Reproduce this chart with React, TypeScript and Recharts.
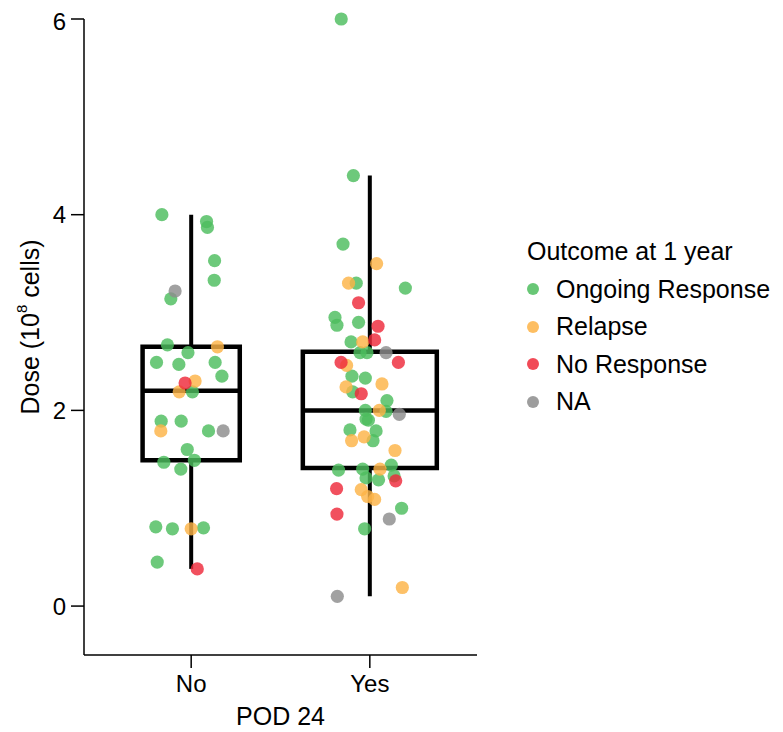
import React from 'react'
import {
  Label,
  ReferenceArea,
  ReferenceLine,
  Scatter,
  ScatterChart,
  XAxis,
  YAxis,
} from 'recharts'

const categories = ['No', 'Yes']
const outcomes = ['Ongoing Response', 'Relapse', 'No Response', 'NA']
const outcomeColors = ['#4DBD5E', '#FDB347', '#EE2A3A', '#8C8C8C']

// [jittered x position, dose]
const ongoingPoints = [
  [0.836, 4.0], [1.086, 3.93], [1.091, 3.87], [1.131, 3.53], [1.129, 3.33], [0.886, 3.14],
  [0.867, 2.67], [0.982, 2.59], [0.806, 2.49], [0.931, 2.47], [1.134, 2.49], [1.172, 2.35],
  [1.007, 2.19], [0.832, 1.89], [0.944, 1.89], [1.097, 1.79], [0.978, 1.6], [0.847, 1.47],
  [1.018, 1.49], [0.942, 1.4], [0.802, 0.81], [0.895, 0.79], [1.069, 0.8], [0.81, 0.45],
  [1.84, 6.0], [1.908, 4.4], [1.85, 3.7], [1.924, 3.3], [2.199, 3.25], [1.805, 2.95],
  [1.816, 2.87], [1.937, 2.9], [1.895, 2.7], [1.945, 2.59], [1.984, 2.59], [1.9, 2.35],
  [1.975, 2.33], [1.904, 2.19], [2.096, 2.1], [1.975, 2.0], [2.091, 1.99], [1.979, 1.91],
  [1.992, 1.9], [1.889, 1.8], [2.035, 1.79], [2.018, 1.69], [2.12, 1.44], [1.825, 1.39],
  [1.96, 1.4], [1.979, 1.31], [2.049, 1.29], [2.136, 1.33], [2.178, 1.0], [1.971, 0.79],
]
const relapsePoints = [
  [1.147, 2.65], [1.022, 2.3], [0.933, 2.19], [0.83, 1.79], [1.0, 0.79],
  [2.038, 3.5], [1.881, 3.3], [1.96, 2.7], [1.87, 2.46], [2.068, 2.27], [1.867, 2.24],
  [2.053, 2.0], [1.898, 1.69], [1.968, 1.73], [2.141, 1.59], [2.057, 1.4], [1.952, 1.19],
  [1.988, 1.12], [2.027, 1.09], [2.182, 0.19],
]
const noResponsePoints = [
  [0.966, 2.28], [1.034, 0.38],
  [1.937, 3.1], [2.046, 2.86], [2.027, 2.72], [1.839, 2.49], [2.16, 2.49], [1.952, 2.17],
  [2.145, 1.28], [1.814, 1.2], [1.816, 0.94],
]
const naPoints = [
  [0.91, 3.22], [1.179, 1.79],
  [2.091, 2.59], [2.165, 1.96], [2.109, 0.89], [1.818, 0.1],
]

// box stats per category (No, Yes)
const whiskerLow = [0.38, 0.1]
const boxQ1 = [1.49, 1.41]
const boxMedian = [2.2, 2.0]
const boxQ3 = [2.65, 2.6]
const whiskerHigh = [4.0, 4.4]
const boxHalfWidth = [0.272, 0.375]

const yTicks = [0, 2, 4, 6]

const FONT = '"Liberation Sans", Arial, sans-serif'

const series = [ongoingPoints, relapsePoints, noResponsePoints, naPoints].map((pts) =>
  pts.map(([x, y]) => ({ x, y })),
)

const makeDot = (color: string) => (props: any) => (
  <circle cx={props.cx} cy={props.cy} r={6.6} fill={color} fillOpacity={0.82} />
)

const renderYLabel = (props: any) => {
  const vb = props.viewBox || { x: 0, y: 0, height: 0 }
  const cx = vb.x + 22
  const cy = vb.y + vb.height / 2 - 10
  return (
    <text
      x={cx}
      y={cy}
      transform={`rotate(-90, ${cx}, ${cy})`}
      textAnchor="middle"
      dominantBaseline="central"
      fontSize={25}
      fontFamily={FONT}
      fill="#000"
    >
      Dose (10
      <tspan dy={-9} fontSize={15}>8</tspan>
      <tspan dy={9}> cells)</tspan>
    </text>
  )
}

export default function App() {
  return (
    <div style={{ position: 'relative', width: 775, height: 724, fontFamily: FONT }}>
      <ScatterChart width={775} height={724} margin={{ top: 11, right: 306, bottom: 7, left: 0 }}>
        <XAxis
          type="number"
          dataKey="x"
          domain={[0.4, 2.6]}
          ticks={[1, 2]}
          tickFormatter={(v: number) => categories[v - 1]}
          height={70}
          tickSize={13}
          tickMargin={7}
          axisLine={{ stroke: '#000', strokeWidth: 1.5 }}
          tickLine={{ stroke: '#000', strokeWidth: 1.5 }}
          tick={{ fontSize: 24, fill: '#000', fontFamily: FONT }}
        >
          <Label value="POD 24" position="insideBottom" offset={0} fontSize={25} fill="#000" fontFamily={FONT} />
        </XAxis>
        <YAxis
          type="number"
          dataKey="y"
          domain={[-0.5, 6]}
          ticks={yTicks}
          width={76}
          tickSize={13}
          tickMargin={5}
          axisLine={{ stroke: '#000', strokeWidth: 1.5 }}
          tickLine={{ stroke: '#000', strokeWidth: 1.5 }}
          tick={{ fontSize: 24, fill: '#000', fontFamily: FONT }}
        >
          <Label content={renderYLabel} />
        </YAxis>

        {categories.map((c, i) => {
          const x = i + 1
          const hw = boxHalfWidth[i]
          return (
            <React.Fragment key={c}>
              <ReferenceLine
                segment={[{ x, y: boxQ3[i] }, { x, y: whiskerHigh[i] }]}
                stroke="#000"
                strokeWidth={4}
              />
              <ReferenceLine
                segment={[{ x, y: whiskerLow[i] }, { x, y: boxQ1[i] }]}
                stroke="#000"
                strokeWidth={4}
              />
              <ReferenceArea
                x1={x - hw}
                x2={x + hw}
                y1={boxQ1[i]}
                y2={boxQ3[i]}
                fill="none"
                fillOpacity={0}
                stroke="#000"
                strokeWidth={4.5}
                strokeOpacity={1}
              />
              <ReferenceLine
                segment={[{ x: x - hw, y: boxMedian[i] }, { x: x + hw, y: boxMedian[i] }]}
                stroke="#000"
                strokeWidth={4.5}
              />
            </React.Fragment>
          )
        })}

        {series.map((data, i) => (
          <Scatter
            key={outcomes[i]}
            name={outcomes[i]}
            data={data}
            shape={makeDot(outcomeColors[i])}
            isAnimationActive={false}
          />
        ))}
      </ScatterChart>

      <div style={{ position: 'absolute', left: 519, top: 225, color: '#000', fontSize: 25 }}>
        <div style={{ height: 37.5, lineHeight: '37.5px', whiteSpace: 'nowrap' }}>Outcome at 1 year</div>
        {outcomes.map((o, i) => (
          <div key={o} style={{ height: 37.5, lineHeight: '37.5px', whiteSpace: 'nowrap', position: 'relative' }}>
            <span
              style={{
                position: 'absolute',
                left: 0,
                top: 12.75,
                width: 12,
                height: 12,
                borderRadius: 6,
                background: outcomeColors[i],
                opacity: 0.85,
              }}
            />
            <span style={{ marginLeft: 29 }}>{o}</span>
          </div>
        ))}
      </div>
    </div>
  )
}
